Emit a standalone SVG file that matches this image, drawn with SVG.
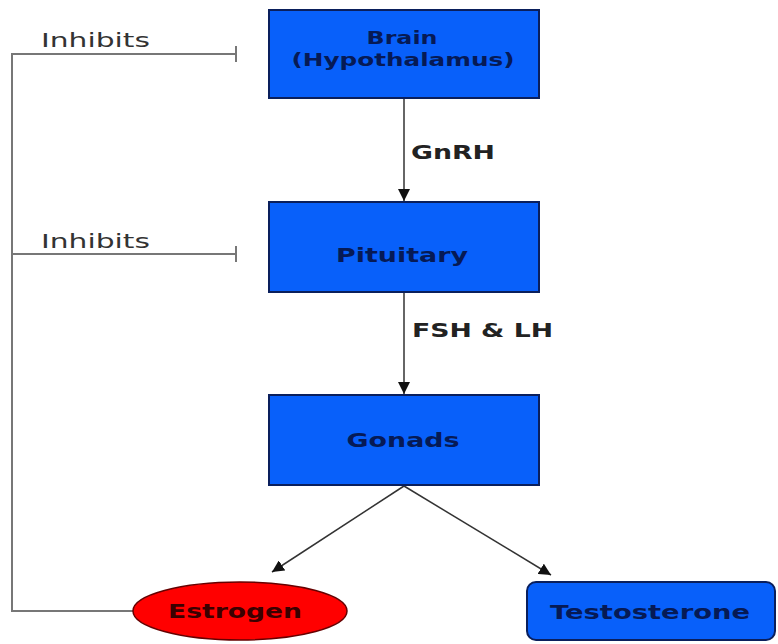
<svg xmlns="http://www.w3.org/2000/svg" width="778" height="644" viewBox="0 0 778 644">
<defs>
<marker id="arr" viewBox="0 0 10 10" refX="10" refY="5" markerWidth="12" markerHeight="12" markerUnits="userSpaceOnUse" orient="auto">
<path d="M0,0 L10,5 L0,10 z" fill="#111"/>
</marker>
</defs>
<style>
.box{fill:#0860fa;stroke:#0a1f5c;stroke-width:2}
.lbl{font-family:"DejaVu Sans",sans-serif;font-weight:bold;font-size:19.5px;fill:#061a55;text-anchor:middle}
.sm{font-size:17.5px}
.edge{font-family:"DejaVu Sans",sans-serif;font-weight:bold;font-size:19.5px;fill:#222}
.inh{font-family:"DejaVu Sans",sans-serif;font-size:19.5px;fill:#333}
.ln{stroke:#333;stroke-width:1.5;fill:none}
.fb{stroke:#777;stroke-width:2;fill:none}
</style>
<g id="connectors">
<line class="ln" x1="404" y1="99" x2="404" y2="201" marker-end="url(#arr)"/>
<line class="ln" x1="404" y1="292" x2="404" y2="394" marker-end="url(#arr)"/>
<line class="ln" x1="404" y1="486" x2="272" y2="572" marker-end="url(#arr)"/>
<line class="ln" x1="404" y1="486" x2="551" y2="575" marker-end="url(#arr)"/>
<polyline class="fb" points="133,611 12,611 12,54 236,54"/>
<line class="fb" x1="12" y1="254" x2="236" y2="254"/>
<line class="fb" x1="236" y1="46" x2="236" y2="62"/>
<line class="fb" x1="236" y1="246" x2="236" y2="262"/>
<text class="edge" x="411" y="159" textLength="84" lengthAdjust="spacingAndGlyphs">GnRH</text>
<text class="edge" x="412" y="337" textLength="141" lengthAdjust="spacingAndGlyphs">FSH &amp; LH</text>
<text class="inh" x="41" y="47" textLength="109" lengthAdjust="spacingAndGlyphs">Inhibits</text>
<text class="inh" x="41" y="248" textLength="109" lengthAdjust="spacingAndGlyphs">Inhibits</text>
</g>
<g id="brain">
<rect class="box" x="269" y="10" width="270" height="88"/>
<text class="lbl sm" x="402" y="44" textLength="71" lengthAdjust="spacingAndGlyphs">Brain</text>
<text class="lbl sm" x="403" y="66" textLength="223" lengthAdjust="spacingAndGlyphs">(Hypothalamus)</text>
</g>
<g id="pituitary">
<rect class="box" x="269" y="202" width="270" height="90"/>
<text class="lbl" x="402" y="262" textLength="132" lengthAdjust="spacingAndGlyphs">Pituitary</text>
</g>
<g id="gonads">
<rect class="box" x="269" y="395" width="270" height="90"/>
<text class="lbl" x="403" y="447" textLength="113" lengthAdjust="spacingAndGlyphs">Gonads</text>
</g>
<g id="estrogen">
<ellipse cx="240" cy="611" rx="107" ry="29" fill="#f00" stroke="#600" stroke-width="1.5"/>
<text class="lbl" x="235" y="618" style="fill:#3a0000" textLength="134" lengthAdjust="spacingAndGlyphs">Estrogen</text>
</g>
<g id="testosterone">
<rect class="box" x="527" y="582" width="248" height="58" rx="9"/>
<text class="lbl" x="650" y="619" textLength="200" lengthAdjust="spacingAndGlyphs">Testosterone</text>
</g>
</svg>
